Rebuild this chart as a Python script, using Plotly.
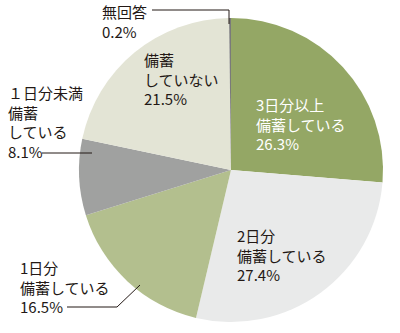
import plotly.graph_objects as go

# Data
labels = ["3日分以上備蓄している", "2日分備蓄している", "1日分備蓄している",
          "1日分未満備蓄している", "備蓄していない", "無回答"]
label_lines = [["3日分以上", "備蓄している"], ["2日分", "備蓄している"], ["1日分", "備蓄している"],
               ["１日分未満", "備蓄", "している"], ["備蓄", "していない"], ["無回答"]]
values = [26.3, 27.4, 16.5, 8.1, 21.5, 0.2]

colors = ["#94A765", "#E9EAEA", "#B3BF8E", "#A0A1A0", "#E3E4D5", "#7A7A7A"]

W, H = 400, 333
cx, cy, r = 231, 170, 152


def px(x):
    return x / W


def py(y):
    return 1 - y / H


fig = go.Figure(go.Pie(
    labels=labels, values=values, sort=False, direction="clockwise", rotation=0,
    marker=dict(colors=colors, line=dict(width=0)),
    textinfo="none", hoverinfo="label+percent",
    domain=dict(x=[px(cx - r), px(cx + r)], y=[py(cy + r), py(cy - r)]),
    showlegend=False,
))

# label placement (left x, vertical center y in pixels), text color
label_pos = [(254, 124, "white"), (235, 255, "#231815"), (18, 287, "#231815"),
             (6, 122, "#231815"), (142, 79, "#231815"), (100, 22, "#231815")]

annotations = []
for lines, v, (lx, ly, col) in zip(label_lines, values, label_pos):
    text = "<br>".join(lines + [f"{v:.1f}%"])
    annotations.append(dict(
        x=px(lx), y=py(ly), xref="paper", yref="paper", xanchor="left", yanchor="middle",
        align="left", showarrow=False, text=text,
        font=dict(family="Noto Sans CJK JP", size=15, color=col),
    ))

line_style = dict(color="#231815", width=1)
shapes = [
    dict(type="path", xref="paper", yref="paper",
         path=f"M {px(152)} {py(10)} L {px(229)} {py(10)} L {px(229)} {py(24)}", line=line_style),
    dict(type="line", xref="paper", yref="paper", x0=px(42), y0=py(153), x1=px(92), y1=py(153), line=line_style),
    dict(type="path", xref="paper", yref="paper",
         path=f"M {px(67)} {py(307)} L {px(117)} {py(307)} L {px(140)} {py(285)}", line=line_style),
]

fig.update_layout(
    width=W, height=H, margin=dict(l=0, r=0, t=0, b=0),
    paper_bgcolor="white", plot_bgcolor="white",
    annotations=annotations, shapes=shapes,
)

fig.write_html("out.html")
